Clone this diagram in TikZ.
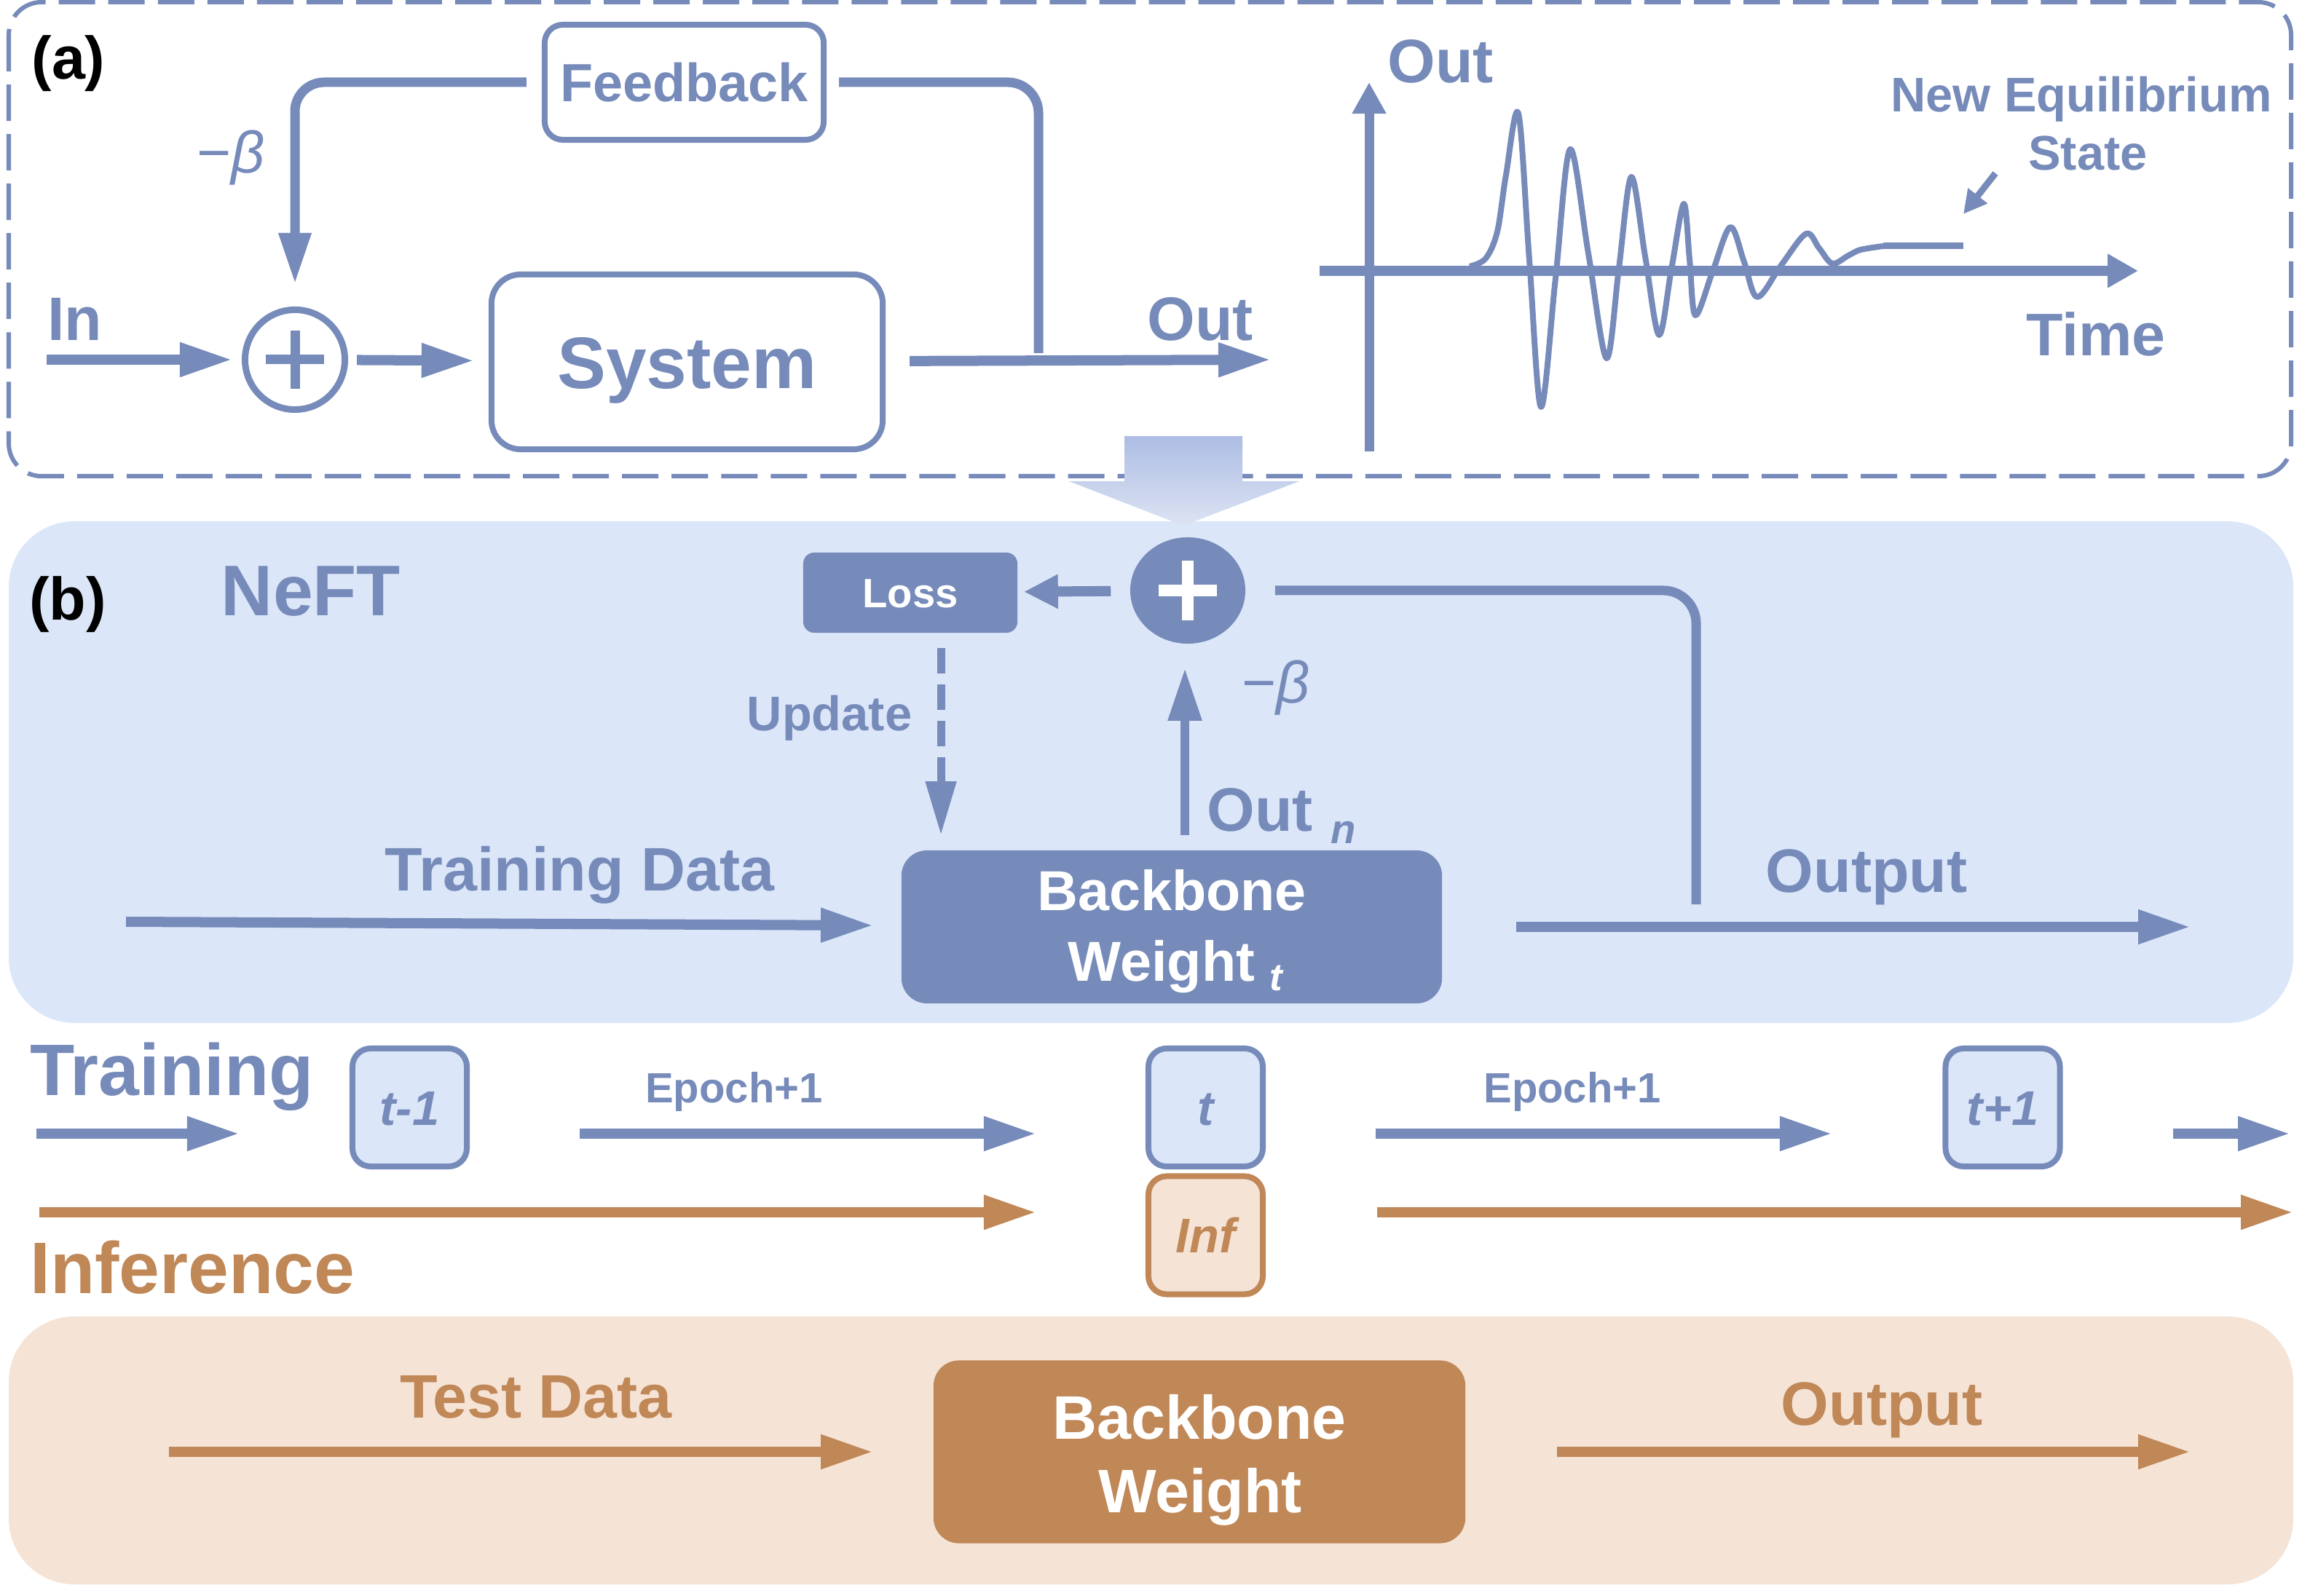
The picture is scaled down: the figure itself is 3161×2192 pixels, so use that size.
\documentclass[tikz,border=0pt]{standalone}
\usepackage{fontspec}
\setmainfont{Liberation Sans}
\usetikzlibrary{arrows.meta,shapes.geometric}
\definecolor{cb}{HTML}{768BBA}
\definecolor{cbl}{HTML}{DCE6F9}
\definecolor{co}{HTML}{C08757}
\definecolor{col}{HTML}{F5E3D6}
\definecolor{gtop}{HTML}{ADBDE3}
\definecolor{gbot}{HTML}{DCE3F3}
\newcommand{\fsz}[1]{\fontsize{#1}{#1}\selectfont}
\begin{document}
\begin{tikzpicture}[x=0.01cm,y=-0.01cm,
  lbl/.style={inner sep=0pt, anchor=base},
  arr/.style={draw=cb, line width=1.4mm, -{Triangle[length=7.2mm,width=4.4mm]}},
  oarr/.style={arr, draw=co},
  fbline/.style={draw=cb, line width=1.3mm},
  ebox/.style={draw=cb, fill=cbl, line width=0.8mm, rounded corners=0.25cm, minimum width=1.57cm, minimum height=1.62cm, inner sep=0pt, text=cb, font=\bfseries\itshape\fsz{19}, text height=13.7pt, text depth=0pt}]
\useasboundingbox (0,0) rectangle (3161,2192);
% backgrounds
\fill[cbl, rounded corners=0.9cm] (12,716) rectangle (3149,1405);
\fill[col, rounded corners=0.9cm] (12,1808) rectangle (3149,2176);
\draw[cb, line width=0.6mm, dash pattern=on 5mm off 1.8mm, rounded corners=0.45cm] (12,3) rectangle (3146,654);

% ---------- (a) ----------
\node[lbl, anchor=center, font=\bfseries\fsz{23.5}] (la) at (94,87) {(a)};
\node[draw=cb, line width=0.8mm, rounded corners=0.25cm, minimum width=3.83cm, minimum height=1.58cm, inner sep=0pt, text=cb, font=\bfseries\fsz{21}, text height=15pt, text depth=0pt] (fb) at (939.5,113) {Feedback};
\node[draw=cb, line width=0.8mm, rounded corners=0.4cm, minimum width=5.37cm, minimum height=2.4cm, inner sep=0pt, text=cb, font=\bfseries\fsz{28.5}, text height=20.5pt, text depth=0pt] (sys) at (943.5,497) {System};
\node[circle, draw=cb, line width=0.9mm, minimum size=1.37cm, inner sep=0pt] (s1) at (405,494) {};
\draw[cb, line width=1.3mm] ([yshift=-0.4cm]s1.center) -- ([yshift=0.4cm]s1.center) ([xshift=-0.4cm]s1.center) -- ([xshift=0.4cm]s1.center);
\coordinate (inS) at (64,494);
\coordinate (outE) at (1745,494);
\coordinate (jn) at (1426,485);
\draw[arr, shorten >=0.13cm] (inS) -- (s1);
\draw[arr, shorten <=0.12cm, shorten >=0.2cm] (s1) -- (sys);
\draw[arr, shorten <=0.33cm] (sys) -- (outE);
\draw[fbline, rounded corners=0.42cm, shorten >=0.17cm] (jn) |- (fb.east);
\draw[fbline, rounded corners=0.4cm, shorten <=0.21cm, shorten >=0.31cm, -{Triangle[length=7mm,width=4.2mm]}] (fb.west) -| (s1);
\node[lbl, text=cb, font=\fsz{23}] (mb1) at (317,238) {−\textit{β}};
\node[lbl, text=cb, font=\bfseries\fsz{24}] (lin) at (103,468) {In};
\node[lbl, text=cb, font=\bfseries\fsz{24}] (lout) at (1648,468) {Out};

% graph
\draw[cb, line width=1.3mm, -{Triangle[length=4.3mm,width=4.4mm]}] (1880,620) -- (1880,113);
\draw[cb, line width=1.4mm, -{Triangle[length=4.2mm,width=4.4mm]}] (1812,372) -- (2936,372);
\draw[cb, line width=0.8mm, line join=round] plot[smooth, tension=0.55] coordinates {(2018,366) (2040,355) (2056,318) (2068,240) (2085,156) (2100,357) (2116,559) (2136,382) (2156,205) (2181,348) (2206,492) (2223,368) (2240,243) (2259,352) (2278,460) (2295,370) (2312,280) (2320,356) (2328,433) (2352,372) (2376,312) (2395,360) (2413,408) (2446,364) (2480,321) (2498,341) (2516,362) (2538,351) (2555,343) (2586,338)};
\draw[cb, line width=0.9mm] (2586,338) -- (2696,338);
\draw[cb, line width=0.9mm, -{Triangle[length=3.2mm,width=3.2mm]}] (2740,238) -- (2696,294);
\node[lbl, text=cb, font=\bfseries\fsz{24}] (gout) at (1978,114) {Out};
\node[lbl, text=cb, font=\bfseries\fsz{19}] (neq) at (2858,154) {New Equilibrium};
\node[lbl, text=cb, font=\bfseries\fsz{19}] (st) at (2867,234) {State};
\node[lbl, text=cb, font=\bfseries\fsz{23.5}] (tm) at (2878,489) {Time};

% transition arrow
\shade[top color=gtop, bottom color=gbot] (1544,599) -- (1706,599) -- (1706,661) -- (1784,661) -- (1625,722) -- (1468,661) -- (1544,661) -- cycle;

% ---------- (b) ----------
\node[lbl, anchor=center, font=\bfseries\fsz{23.5}] (lb) at (93,830) {(b)};
\node[lbl, text=cb, font=\bfseries\fsz{28}] (neft) at (427,846) {NeFT};
\node[fill=cb, rounded corners=0.15cm, minimum width=2.94cm, minimum height=1.1cm, inner sep=0pt, text=white, font=\bfseries\fsz{16}, text height=11.5pt, text depth=0pt] (loss) at (1250,814) {Loss};
\node[ellipse, fill=cb, minimum width=1.58cm, minimum height=1.46cm, inner sep=0pt] (s2) at (1631,811) {};
\draw[white, line width=1.6mm] ([yshift=-0.41cm]s2.center) -- ([yshift=0.41cm]s2.center) ([xshift=-0.4cm]s2.center) -- ([xshift=0.4cm]s2.center);
\node[fill=cb, rounded corners=0.35cm, minimum width=7.42cm, minimum height=2.1cm, inner sep=0pt] (bb) at (1609,1273) {};
\node[lbl, text=white, font=\bfseries\fsz{22}] (bbt1) at (1609,1250) {Backbone};
\node[lbl, anchor=base west, text=white, font=\bfseries\fsz{22}] (bbt2) at (1466,1347) {Weight\hspace{5.7pt}\raisebox{-3.7pt}{\fsz{15}\itshape t}};
\draw[arr, -{Triangle[length=4.7mm,width=4.4mm]}, shorten <=0.26cm, shorten >=0.08cm] (s2) -- (loss);
\coordinate (updS) at ([xshift=0.42cm]loss.south);
\coordinate (updE) at (updS |- bb.north);
\draw[arr, line width=1.1mm, dash pattern=on 3.5mm off 1.5mm, -{Triangle[length=7.4mm,width=4mm]}, shorten <=0.2cm, shorten >=0.2cm] (updS) -- (updE);
\coordinate (onS) at ([xshift=0.18cm]bb.north);
\coordinate (onE) at (onS |- s2.south);
\draw[arr, line width=1.2mm, shorten <=0.2cm, shorten >=0.33cm] (onS) -- (onE);
\node[lbl, text=cb, font=\bfseries\fsz{19}] (updl) at (1139,1004) {Update};
\node[lbl, text=cb, font=\fsz{23}] (mb2) at (1752,966) {−\textit{β}};
\node[lbl, anchor=base west, text=cb, font=\bfseries\fsz{24}] (outn) at (1657,1142) {Out\hspace{7pt}\raisebox{-4.8pt}{\fsz{16}\itshape n}};
\node[lbl, text=cb, font=\bfseries\fsz{24}] (tdl) at (796,1223) {Training Data};
\coordinate (tdS) at (173,1266);
\draw[arr, shorten >=0.38cm] (tdS) -- (bb);
\coordinate (opE) at (3008,1273);
\draw[arr, shorten <=1.01cm] (bb) -- (opE);
\node[lbl, text=cb, font=\bfseries\fsz{24}] (opl) at (2563,1225) {Output};
\coordinate (lj) at (2329,1242);
\draw[fbline, rounded corners=0.45cm, shorten >=0.4cm] (lj) |- (s2.east);

% ---------- training / inference timeline ----------
\node[lbl, text=cb, font=\bfseries\fsz{28.5}] (trl) at (236,1504) {Training};
\node[ebox] (tm1) at (562.5,1521) {t-1};
\node[ebox] (t0) at (1655.5,1521) {t};
\node[ebox] (tp1) at (2750,1521) {t+1};
\node[ebox, draw=co, fill=col, text=co] (inf) at (1655.5,1696.5) {Inf};
\coordinate (a1s) at (50,1557); \coordinate (a1e) at (329,1557);
\coordinate (a2s) at (796,1557); \coordinate (a2e) at (1423,1557);
\coordinate (a3s) at (1889,1557); \coordinate (a3e) at (2516,1557);
\coordinate (a4s) at (2984,1557); \coordinate (a4e) at (3145,1557);
\draw[arr] (a1s) -- (a1e);
\draw[arr] (a2s) -- (a2e);
\draw[arr] (a3s) -- (a3e);
\draw[arr] (a4s) -- (a4e);
\node[lbl, text=cb, font=\bfseries\fsz{16.5}] (ep1) at (1008,1514) {Epoch+1};
\node[lbl, text=cb, font=\bfseries\fsz{16.5}] (ep2) at (2159,1514) {Epoch+1};
\node[lbl, text=co, font=\bfseries\fsz{28.5}] (infl) at (264,1776) {Inference};
\coordinate (i1s) at (54,1665); \coordinate (i1e) at (1423,1665);
\coordinate (i2s) at (1891,1665); \coordinate (i2e) at (3149,1665);
\draw[oarr] (i1s) -- (i1e);
\draw[oarr] (i2s) -- (i2e);

% ---------- inference panel ----------
\node[fill=co, rounded corners=0.35cm, minimum width=7.3cm, minimum height=2.51cm, inner sep=0pt] (bbo) at (1647,1994) {};
\node[lbl, text=white, font=\bfseries\fsz{24}] (bbo1) at (1647,1976) {Backbone};
\node[lbl, text=white, font=\bfseries\fsz{24}] (bbo2) at (1648,2077) {Weight};
\node[lbl, text=co, font=\bfseries\fsz{24}] (tel) at (736,1947) {Test Data};
\coordinate (teS) at (232,1994);
\draw[oarr, shorten >=0.82cm] (teS) -- (bbo);
\coordinate (op2E) at (3008,1994);
\draw[oarr, shorten <=1.25cm] (bbo) -- (op2E);
\node[lbl, text=co, font=\bfseries\fsz{24}] (op2l) at (2584,1957) {Output};
\end{tikzpicture}
\end{document}
